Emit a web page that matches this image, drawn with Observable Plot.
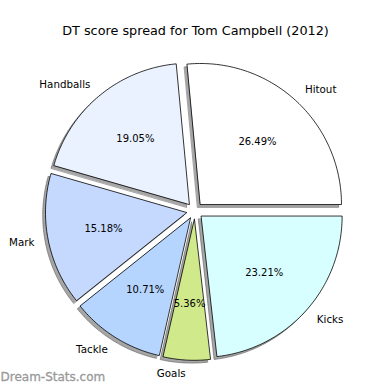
<!DOCTYPE html>
<html>
<head>
<meta charset="utf-8">
<script src="https://cdn.jsdelivr.net/npm/d3@7"></script>
<script src="https://cdn.jsdelivr.net/npm/@observablehq/plot@0.6"></script>
<style>
  body { margin: 0; background: #fff; }
  svg { font-family: "DejaVu Sans", sans-serif; }
</style>
</head>
<body>
<div id="chart"></div>
<script>
const title = "DT score spread for Tom Campbell (2012)";
const watermark = "Dream-Stats.com";
const labels = ["Hitout", "Handballs", "Mark", "Tackle", "Goals", "Kicks"];
const values = [26.49, 19.05, 15.18, 10.71, 5.36, 23.21];
const colors = ["#ffffff", "#ebf2ff", "#c5d9ff", "#b5d5ff", "#d0ea8b", "#d8ffff"];

const EXPLODE = 0.06;
const SHADOW = 0.02;
const total = d3.sum(values);

// Build wedges (data units: radius 1, centre 0,0, y up)
const wedges = [];
const slices = [];
let start = 0;
values.forEach((v, i) => {
  const sweep = v / total * 2 * Math.PI;
  const t1 = start, t2 = start + sweep, m = (t1 + t2) / 2;
  const ex = EXPLODE * Math.cos(m), ey = EXPLODE * Math.sin(m);
  const pts = [{x: ex, y: ey}];
  const n = Math.max(4, Math.ceil(sweep / (Math.PI / 180)));
  for (let k = 0; k <= n; k++) {
    const t = t1 + sweep * k / n;
    pts.push({x: ex + Math.cos(t), y: ey + Math.sin(t)});
  }
  pts.forEach(p => wedges.push({label: labels[i], x: p.x, y: p.y}));
  slices.push({
    label: labels[i],
    pct: v.toFixed(2) + "%",
    lx: ex + 1.1 * Math.cos(m), ly: ey + 1.1 * Math.sin(m),
    px: ex + 0.6 * Math.cos(m), py: ey + 0.6 * Math.sin(m)
  });
  start = t2;
});

const chart = Plot.plot({
  width: 390,
  height: 390,
  margin: 0,
  style: {fontFamily: "DejaVu Sans, sans-serif", background: "#fff"},
  x: {axis: null, domain: [-1.378, 1.388], range: [0, 390]},
  y: {axis: null, domain: [-1.274, 1.491], range: [390, 0]},
  color: {domain: labels, range: colors},
  marks: [
    // shadows
    Plot.line(wedges, {
      x: d => d.x - SHADOW, y: d => d.y - SHADOW, z: "label",
      curve: "linear-closed", fill: "#4d4d4d", fillOpacity: 0.5,
      stroke: "#4d4d4d", strokeOpacity: 0.5, strokeWidth: 1
    }),
    // wedges
    Plot.line(wedges, {
      x: "x", y: "y", z: "label", curve: "linear-closed",
      fill: "label", stroke: "#000", strokeWidth: 0.8
    }),
    // outer labels
    Plot.text(slices.filter(d => d.lx > 0), {
      x: "lx", y: "ly", text: "label", textAnchor: "start", fontSize: 10.3, fill: "#000"
    }),
    Plot.text(slices.filter(d => d.lx <= 0), {
      x: "lx", y: "ly", text: "label", textAnchor: "end", fontSize: 10.3, fill: "#000"
    }),
    // percent labels
    Plot.text(slices, {
      x: "px", y: "py", text: "pct", fontSize: 10, fill: "#000"
    }),
    // title
    Plot.text([title], {frameAnchor: "top", dy: 25, fontSize: 12.8, fill: "#000"}),
    // watermark
    Plot.text([watermark], {
      frameAnchor: "bottom-left", textAnchor: "start", dy: -10, dx: 0,
      fontSize: 12, fontWeight: "normal", fill: "#999999", stroke: "#999999", strokeWidth: 0.3
    })
  ]
});
document.getElementById("chart").appendChild(chart);
</script>
</body>
</html>
